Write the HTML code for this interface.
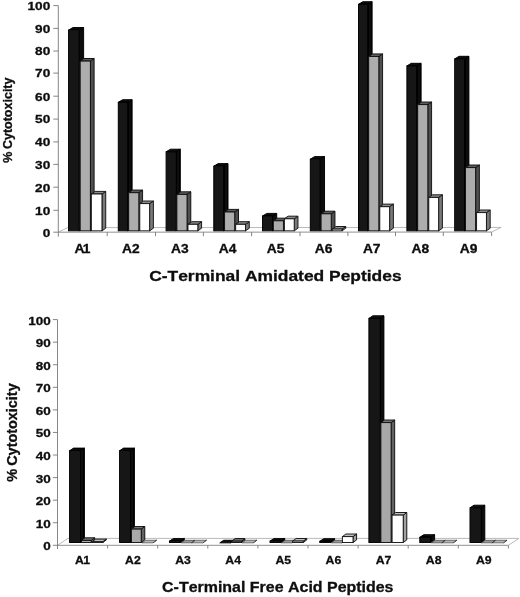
<!DOCTYPE html>
<html><head><meta charset="utf-8"><title>Cytotoxicity of peptides</title>
<style>
html,body{margin:0;padding:0;background:#fff;}
svg{display:block;filter:grayscale(1)}
text{font-family:"Liberation Sans", Arial, Helvetica, sans-serif;font-weight:bold;fill:#0e0e0e;stroke:#0e0e0e;stroke-width:0.3px;font-kerning:none}
</style></head><body>
<svg width="520" height="597" viewBox="0 0 520 597">
<defs><filter id="soft" x="-2%" y="-2%" width="104%" height="104%"><feGaussianBlur stdDeviation="0.32"/></filter></defs>
<rect width="520" height="597" fill="#fff"/>
<g filter="url(#soft)">
<polyline points="58.3,232.2 67.7,227.6 501.05,227.45 491.65,232.05" fill="none" stroke="#a8a8a8" stroke-width="0.8"/>
<line x1="58.3" y1="232.2" x2="491.65" y2="232.05" stroke="#858585" stroke-width="0.9"/>
<line x1="58.3" y1="5.6" x2="58.3" y2="236.7" stroke="#787878" stroke-width="0.9"/>
<line x1="53.3" y1="232.2" x2="58.3" y2="232.2" stroke="#787878" stroke-width="0.9"/>
<line x1="53.3" y1="210.3" x2="58.3" y2="210.3" stroke="#787878" stroke-width="0.9"/>
<line x1="53.3" y1="187.2" x2="58.3" y2="187.2" stroke="#787878" stroke-width="0.9"/>
<line x1="53.3" y1="164.4" x2="58.3" y2="164.4" stroke="#787878" stroke-width="0.9"/>
<line x1="53.3" y1="141.9" x2="58.3" y2="141.9" stroke="#787878" stroke-width="0.9"/>
<line x1="53.3" y1="119.1" x2="58.3" y2="119.1" stroke="#787878" stroke-width="0.9"/>
<line x1="53.3" y1="96.2" x2="58.3" y2="96.2" stroke="#787878" stroke-width="0.9"/>
<line x1="53.3" y1="73.1" x2="58.3" y2="73.1" stroke="#787878" stroke-width="0.9"/>
<line x1="53.3" y1="51" x2="58.3" y2="51" stroke="#787878" stroke-width="0.9"/>
<line x1="53.3" y1="28.4" x2="58.3" y2="28.4" stroke="#787878" stroke-width="0.9"/>
<line x1="53.3" y1="5.6" x2="58.3" y2="5.6" stroke="#787878" stroke-width="0.9"/>
<line x1="107.2" y1="232.18" x2="107.2" y2="236.18" stroke="#787878" stroke-width="0.9"/>
<line x1="155.5" y1="232.17" x2="155.5" y2="236.17" stroke="#787878" stroke-width="0.9"/>
<line x1="203.4" y1="232.15" x2="203.4" y2="236.15" stroke="#787878" stroke-width="0.9"/>
<line x1="251.6" y1="232.13" x2="251.6" y2="236.13" stroke="#787878" stroke-width="0.9"/>
<line x1="300" y1="232.12" x2="300" y2="236.12" stroke="#787878" stroke-width="0.9"/>
<line x1="347.9" y1="232.1" x2="347.9" y2="236.1" stroke="#787878" stroke-width="0.9"/>
<line x1="395.5" y1="232.08" x2="395.5" y2="236.08" stroke="#787878" stroke-width="0.9"/>
<line x1="443.3" y1="232.07" x2="443.3" y2="236.07" stroke="#787878" stroke-width="0.9"/>
<line x1="491.6" y1="232.05" x2="491.6" y2="236.05" stroke="#787878" stroke-width="0.9"/>
<polygon points="79.22,30.1 83.62,27.5 83.62,228.23 79.22,230.83" fill="#070707" stroke="#040404" stroke-width="0.95" stroke-linejoin="round"/>
<polygon points="68.57,30.1 72.97,27.5 83.62,27.5 79.22,30.1" fill="#0a0a0a" stroke="#040404" stroke-width="0.95" stroke-linejoin="round"/>
<rect x="68.57" y="30.1" width="10.65" height="200.73" fill="#161616" stroke="#040404" stroke-width="0.95"/>
<polygon points="90.38,61.1 94.12,58.5 94.12,228.23 90.38,230.83" fill="#505050" stroke="#101010" stroke-width="0.95" stroke-linejoin="round"/>
<polygon points="80.17,61.1 83.92,58.5 94.12,58.5 90.38,61.1" fill="#5c5c5c" stroke="#101010" stroke-width="0.95" stroke-linejoin="round"/>
<rect x="80.17" y="61.1" width="10.2" height="169.73" fill="#adadad" stroke="#101010" stroke-width="0.95"/>
<polygon points="101.97,194 105.72,191.4 105.72,228.23 101.97,230.83" fill="#7a7a7a" stroke="#141414" stroke-width="0.95" stroke-linejoin="round"/>
<polygon points="91.32,194 95.07,191.4 105.72,191.4 101.97,194" fill="#8c8c8c" stroke="#141414" stroke-width="0.95" stroke-linejoin="round"/>
<rect x="91.32" y="194" width="10.65" height="36.83" fill="#ffffff" stroke="#141414" stroke-width="0.95"/>
<polygon points="127.72,102.3 132.12,99.7 132.12,228.23 127.72,230.83" fill="#070707" stroke="#040404" stroke-width="0.95" stroke-linejoin="round"/>
<polygon points="118.27,102.3 122.67,99.7 132.12,99.7 127.72,102.3" fill="#0a0a0a" stroke="#040404" stroke-width="0.95" stroke-linejoin="round"/>
<rect x="118.27" y="102.3" width="9.45" height="128.53" fill="#161616" stroke="#040404" stroke-width="0.95"/>
<polygon points="138.82,192.7 142.57,190.1 142.57,228.23 138.82,230.83" fill="#505050" stroke="#101010" stroke-width="0.95" stroke-linejoin="round"/>
<polygon points="128.67,192.7 132.42,190.1 142.57,190.1 138.82,192.7" fill="#5c5c5c" stroke="#101010" stroke-width="0.95" stroke-linejoin="round"/>
<rect x="128.67" y="192.7" width="10.15" height="38.13" fill="#adadad" stroke="#101010" stroke-width="0.95"/>
<polygon points="149.62,203.6 153.38,201 153.38,228.23 149.62,230.83" fill="#7a7a7a" stroke="#141414" stroke-width="0.95" stroke-linejoin="round"/>
<polygon points="139.77,203.6 143.52,201 153.38,201 149.62,203.6" fill="#8c8c8c" stroke="#141414" stroke-width="0.95" stroke-linejoin="round"/>
<rect x="139.77" y="203.6" width="9.85" height="27.23" fill="#ffffff" stroke="#141414" stroke-width="0.95"/>
<polygon points="175.93,151.8 180.33,149.2 180.33,228.23 175.93,230.83" fill="#070707" stroke="#040404" stroke-width="0.95" stroke-linejoin="round"/>
<polygon points="166.07,151.8 170.47,149.2 180.33,149.2 175.93,151.8" fill="#0a0a0a" stroke="#040404" stroke-width="0.95" stroke-linejoin="round"/>
<rect x="166.07" y="151.8" width="9.85" height="79.03" fill="#161616" stroke="#040404" stroke-width="0.95"/>
<polygon points="187.03,194.4 190.78,191.8 190.78,228.23 187.03,230.83" fill="#505050" stroke="#101010" stroke-width="0.95" stroke-linejoin="round"/>
<polygon points="176.88,194.4 180.62,191.8 190.78,191.8 187.03,194.4" fill="#5c5c5c" stroke="#101010" stroke-width="0.95" stroke-linejoin="round"/>
<rect x="176.88" y="194.4" width="10.15" height="36.43" fill="#adadad" stroke="#101010" stroke-width="0.95"/>
<polygon points="197.83,224.3 201.58,221.7 201.58,228.23 197.83,230.83" fill="#7a7a7a" stroke="#141414" stroke-width="0.95" stroke-linejoin="round"/>
<polygon points="187.97,224.3 191.72,221.7 201.58,221.7 197.83,224.3" fill="#8c8c8c" stroke="#141414" stroke-width="0.95" stroke-linejoin="round"/>
<rect x="187.97" y="224.3" width="9.85" height="6.53" fill="#ffffff" stroke="#141414" stroke-width="0.95"/>
<polygon points="223.63,166.2 228.03,163.6 228.03,228.23 223.63,230.83" fill="#070707" stroke="#040404" stroke-width="0.95" stroke-linejoin="round"/>
<polygon points="213.78,166.2 218.18,163.6 228.03,163.6 223.63,166.2" fill="#0a0a0a" stroke="#040404" stroke-width="0.95" stroke-linejoin="round"/>
<rect x="213.78" y="166.2" width="9.85" height="64.63" fill="#161616" stroke="#040404" stroke-width="0.95"/>
<polygon points="234.73,212 238.48,209.4 238.48,228.23 234.73,230.83" fill="#505050" stroke="#101010" stroke-width="0.95" stroke-linejoin="round"/>
<polygon points="224.58,212 228.33,209.4 238.48,209.4 234.73,212" fill="#5c5c5c" stroke="#101010" stroke-width="0.95" stroke-linejoin="round"/>
<rect x="224.58" y="212" width="10.15" height="18.83" fill="#adadad" stroke="#101010" stroke-width="0.95"/>
<polygon points="245.53,224.3 249.28,221.7 249.28,228.23 245.53,230.83" fill="#7a7a7a" stroke="#141414" stroke-width="0.95" stroke-linejoin="round"/>
<polygon points="235.68,224.3 239.43,221.7 249.28,221.7 245.53,224.3" fill="#8c8c8c" stroke="#141414" stroke-width="0.95" stroke-linejoin="round"/>
<rect x="235.68" y="224.3" width="9.85" height="6.53" fill="#ffffff" stroke="#141414" stroke-width="0.95"/>
<polygon points="272.32,216 276.72,213.4 276.72,228.23 272.32,230.83" fill="#070707" stroke="#040404" stroke-width="0.95" stroke-linejoin="round"/>
<polygon points="262.48,216 266.88,213.4 276.72,213.4 272.32,216" fill="#0a0a0a" stroke="#040404" stroke-width="0.95" stroke-linejoin="round"/>
<rect x="262.48" y="216" width="9.85" height="14.83" fill="#161616" stroke="#040404" stroke-width="0.95"/>
<polygon points="283.43,220.8 287.18,218.2 287.18,228.23 283.43,230.83" fill="#505050" stroke="#101010" stroke-width="0.95" stroke-linejoin="round"/>
<polygon points="273.28,220.8 277.03,218.2 287.18,218.2 283.43,220.8" fill="#5c5c5c" stroke="#101010" stroke-width="0.95" stroke-linejoin="round"/>
<rect x="273.28" y="220.8" width="10.15" height="10.03" fill="#adadad" stroke="#101010" stroke-width="0.95"/>
<polygon points="294.23,218.8 297.98,216.2 297.98,228.23 294.23,230.83" fill="#7a7a7a" stroke="#141414" stroke-width="0.95" stroke-linejoin="round"/>
<polygon points="284.38,218.8 288.13,216.2 297.98,216.2 294.23,218.8" fill="#8c8c8c" stroke="#141414" stroke-width="0.95" stroke-linejoin="round"/>
<rect x="284.38" y="218.8" width="9.85" height="12.03" fill="#ffffff" stroke="#141414" stroke-width="0.95"/>
<polygon points="320.12,159.2 324.52,156.6 324.52,228.23 320.12,230.83" fill="#070707" stroke="#040404" stroke-width="0.95" stroke-linejoin="round"/>
<polygon points="310.28,159.2 314.68,156.6 324.52,156.6 320.12,159.2" fill="#0a0a0a" stroke="#040404" stroke-width="0.95" stroke-linejoin="round"/>
<rect x="310.28" y="159.2" width="9.85" height="71.63" fill="#161616" stroke="#040404" stroke-width="0.95"/>
<polygon points="331.23,213.8 334.98,211.2 334.98,228.23 331.23,230.83" fill="#505050" stroke="#101010" stroke-width="0.95" stroke-linejoin="round"/>
<polygon points="321.08,213.8 324.83,211.2 334.98,211.2 331.23,213.8" fill="#5c5c5c" stroke="#101010" stroke-width="0.95" stroke-linejoin="round"/>
<rect x="321.08" y="213.8" width="10.15" height="17.03" fill="#adadad" stroke="#101010" stroke-width="0.95"/>
<polygon points="342.03,229.1 345.78,226.5 345.78,228.23 342.03,230.83" fill="#7a7a7a" stroke="#141414" stroke-width="0.95" stroke-linejoin="round"/>
<polygon points="332.18,229.1 335.93,226.5 345.78,226.5 342.03,229.1" fill="#8c8c8c" stroke="#141414" stroke-width="0.95" stroke-linejoin="round"/>
<rect x="332.18" y="229.1" width="9.85" height="1.73" fill="#ffffff" stroke="#141414" stroke-width="0.95"/>
<polygon points="367.72,4.3 372.12,1.7 372.12,228.23 367.72,230.83" fill="#070707" stroke="#040404" stroke-width="0.95" stroke-linejoin="round"/>
<polygon points="358.48,4.3 362.88,1.7 372.12,1.7 367.72,4.3" fill="#0a0a0a" stroke="#040404" stroke-width="0.95" stroke-linejoin="round"/>
<rect x="358.48" y="4.3" width="9.25" height="226.53" fill="#161616" stroke="#040404" stroke-width="0.95"/>
<polygon points="378.82,56.5 382.57,53.9 382.57,228.23 378.82,230.83" fill="#505050" stroke="#101010" stroke-width="0.95" stroke-linejoin="round"/>
<polygon points="368.68,56.5 372.43,53.9 382.57,53.9 378.82,56.5" fill="#5c5c5c" stroke="#101010" stroke-width="0.95" stroke-linejoin="round"/>
<rect x="368.68" y="56.5" width="10.15" height="174.33" fill="#adadad" stroke="#101010" stroke-width="0.95"/>
<polygon points="389.62,206.7 393.38,204.1 393.38,228.23 389.62,230.83" fill="#7a7a7a" stroke="#141414" stroke-width="0.95" stroke-linejoin="round"/>
<polygon points="379.78,206.7 383.53,204.1 393.38,204.1 389.62,206.7" fill="#8c8c8c" stroke="#141414" stroke-width="0.95" stroke-linejoin="round"/>
<rect x="379.78" y="206.7" width="9.85" height="24.13" fill="#ffffff" stroke="#141414" stroke-width="0.95"/>
<polygon points="416.72,65.9 421.12,63.3 421.12,228.23 416.72,230.83" fill="#070707" stroke="#040404" stroke-width="0.95" stroke-linejoin="round"/>
<polygon points="406.88,65.9 411.27,63.3 421.12,63.3 416.72,65.9" fill="#0a0a0a" stroke="#040404" stroke-width="0.95" stroke-linejoin="round"/>
<rect x="406.88" y="65.9" width="9.85" height="164.93" fill="#161616" stroke="#040404" stroke-width="0.95"/>
<polygon points="427.82,104.6 431.57,102 431.57,228.23 427.82,230.83" fill="#505050" stroke="#101010" stroke-width="0.95" stroke-linejoin="round"/>
<polygon points="417.68,104.6 421.43,102 431.57,102 427.82,104.6" fill="#5c5c5c" stroke="#101010" stroke-width="0.95" stroke-linejoin="round"/>
<rect x="417.68" y="104.6" width="10.15" height="126.23" fill="#adadad" stroke="#101010" stroke-width="0.95"/>
<polygon points="438.62,197.4 442.38,194.8 442.38,228.23 438.62,230.83" fill="#7a7a7a" stroke="#141414" stroke-width="0.95" stroke-linejoin="round"/>
<polygon points="428.78,197.4 432.53,194.8 442.38,194.8 438.62,197.4" fill="#8c8c8c" stroke="#141414" stroke-width="0.95" stroke-linejoin="round"/>
<rect x="428.78" y="197.4" width="9.85" height="33.43" fill="#ffffff" stroke="#141414" stroke-width="0.95"/>
<polygon points="464.52,58.9 468.92,56.3 468.92,228.23 464.52,230.83" fill="#070707" stroke="#040404" stroke-width="0.95" stroke-linejoin="round"/>
<polygon points="454.68,58.9 459.07,56.3 468.92,56.3 464.52,58.9" fill="#0a0a0a" stroke="#040404" stroke-width="0.95" stroke-linejoin="round"/>
<rect x="454.68" y="58.9" width="9.85" height="171.93" fill="#161616" stroke="#040404" stroke-width="0.95"/>
<polygon points="475.62,167.6 479.38,165 479.38,228.23 475.62,230.83" fill="#505050" stroke="#101010" stroke-width="0.95" stroke-linejoin="round"/>
<polygon points="465.48,167.6 469.23,165 479.38,165 475.62,167.6" fill="#5c5c5c" stroke="#101010" stroke-width="0.95" stroke-linejoin="round"/>
<rect x="465.48" y="167.6" width="10.15" height="63.23" fill="#adadad" stroke="#101010" stroke-width="0.95"/>
<polygon points="486.43,212.6 490.18,210 490.18,228.23 486.43,230.83" fill="#7a7a7a" stroke="#141414" stroke-width="0.95" stroke-linejoin="round"/>
<polygon points="476.58,212.6 480.33,210 490.18,210 486.43,212.6" fill="#8c8c8c" stroke="#141414" stroke-width="0.95" stroke-linejoin="round"/>
<rect x="476.58" y="212.6" width="9.85" height="18.23" fill="#ffffff" stroke="#141414" stroke-width="0.95"/>
</g>
<g>
<text transform="translate(50.2,236.5) scale(1.175,1)" text-anchor="end" font-size="11.6">0</text>
<text transform="translate(50.2,214.6) scale(1.175,1)" text-anchor="end" font-size="11.6">10</text>
<text transform="translate(50.2,191.5) scale(1.175,1)" text-anchor="end" font-size="11.6">20</text>
<text transform="translate(50.2,168.7) scale(1.175,1)" text-anchor="end" font-size="11.6">30</text>
<text transform="translate(50.2,146.2) scale(1.175,1)" text-anchor="end" font-size="11.6">40</text>
<text transform="translate(50.2,123.4) scale(1.175,1)" text-anchor="end" font-size="11.6">50</text>
<text transform="translate(50.2,100.5) scale(1.175,1)" text-anchor="end" font-size="11.6">60</text>
<text transform="translate(50.2,77.4) scale(1.175,1)" text-anchor="end" font-size="11.6">70</text>
<text transform="translate(50.2,55.3) scale(1.175,1)" text-anchor="end" font-size="11.6">80</text>
<text transform="translate(50.2,32.7) scale(1.175,1)" text-anchor="end" font-size="11.6">90</text>
<text transform="translate(50.2,9.9) scale(1.175,1)" text-anchor="end" font-size="11.6">100</text>
<text transform="translate(74.6,252.6) scale(1.15,1)" font-size="12">A<tspan dx="-1.6">1</tspan></text>
<text transform="translate(122,252.6) scale(1.15,1)" font-size="12">A2</text>
<text transform="translate(171,252.6) scale(1.15,1)" font-size="12">A3</text>
<text transform="translate(218.8,252.6) scale(1.15,1)" font-size="12">A4</text>
<text transform="translate(266.7,252.6) scale(1.15,1)" font-size="12">A5</text>
<text transform="translate(314.7,252.6) scale(1.15,1)" font-size="12">A6</text>
<text transform="translate(362.9,252.6) scale(1.15,1)" font-size="12">A7</text>
<text transform="translate(411.6,252.6) scale(1.15,1)" font-size="12">A8</text>
<text transform="translate(459.8,252.6) scale(1.15,1)" font-size="12">A9</text>
<text x="149.2" y="281.4" font-size="15.4" textLength="252.4" lengthAdjust="spacingAndGlyphs">C-Terminal Amidated Peptides</text>
<text transform="translate(12.2,162.7) rotate(-90)" font-size="13.6" textLength="85.2" lengthAdjust="spacingAndGlyphs" word-spacing="-1.1">% Cytotoxicity</text>
</g>
<g filter="url(#soft)">
<polyline points="57.5,545.3 68,538.4 518.9,538.4 508.4,545.3" fill="none" stroke="#a8a8a8" stroke-width="0.8"/>
<line x1="57.5" y1="545.3" x2="508.4" y2="545.3" stroke="#858585" stroke-width="0.9"/>
<line x1="57.5" y1="319.6" x2="57.5" y2="549.1" stroke="#787878" stroke-width="0.9"/>
<line x1="52.9" y1="545.3" x2="57.5" y2="545.3" stroke="#787878" stroke-width="0.9"/>
<line x1="52.9" y1="522.73" x2="57.5" y2="522.73" stroke="#787878" stroke-width="0.9"/>
<line x1="52.9" y1="500.16" x2="57.5" y2="500.16" stroke="#787878" stroke-width="0.9"/>
<line x1="52.9" y1="477.59" x2="57.5" y2="477.59" stroke="#787878" stroke-width="0.9"/>
<line x1="52.9" y1="455.02" x2="57.5" y2="455.02" stroke="#787878" stroke-width="0.9"/>
<line x1="52.9" y1="432.45" x2="57.5" y2="432.45" stroke="#787878" stroke-width="0.9"/>
<line x1="52.9" y1="409.88" x2="57.5" y2="409.88" stroke="#787878" stroke-width="0.9"/>
<line x1="52.9" y1="387.31" x2="57.5" y2="387.31" stroke="#787878" stroke-width="0.9"/>
<line x1="52.9" y1="364.74" x2="57.5" y2="364.74" stroke="#787878" stroke-width="0.9"/>
<line x1="52.9" y1="342.17" x2="57.5" y2="342.17" stroke="#787878" stroke-width="0.9"/>
<line x1="52.9" y1="319.6" x2="57.5" y2="319.6" stroke="#787878" stroke-width="0.9"/>
<line x1="107.6" y1="545.3" x2="107.6" y2="548.5" stroke="#787878" stroke-width="0.9"/>
<line x1="157.7" y1="545.3" x2="157.7" y2="548.5" stroke="#787878" stroke-width="0.9"/>
<line x1="207.8" y1="545.3" x2="207.8" y2="548.5" stroke="#787878" stroke-width="0.9"/>
<line x1="257.9" y1="545.3" x2="257.9" y2="548.5" stroke="#787878" stroke-width="0.9"/>
<line x1="308" y1="545.3" x2="308" y2="548.5" stroke="#787878" stroke-width="0.9"/>
<line x1="358.1" y1="545.3" x2="358.1" y2="548.5" stroke="#787878" stroke-width="0.9"/>
<line x1="408.2" y1="545.3" x2="408.2" y2="548.5" stroke="#787878" stroke-width="0.9"/>
<line x1="458.3" y1="545.3" x2="458.3" y2="548.5" stroke="#787878" stroke-width="0.9"/>
<line x1="508.4" y1="545.3" x2="508.4" y2="548.5" stroke="#787878" stroke-width="0.9"/>
<polygon points="80.42,450.7 84.42,448.1 84.42,539.92 80.42,542.52" fill="#070707" stroke="#040404" stroke-width="0.95" stroke-linejoin="round"/>
<polygon points="69.57,450.7 73.57,448.1 84.42,448.1 80.42,450.7" fill="#0a0a0a" stroke="#040404" stroke-width="0.95" stroke-linejoin="round"/>
<rect x="69.57" y="450.7" width="10.85" height="91.82" fill="#161616" stroke="#040404" stroke-width="0.95"/>
<polygon points="91.22,540.4 94.77,537.8 94.77,539.92 91.22,542.52" fill="#626262" stroke="#101010" stroke-width="0.95" stroke-linejoin="round"/>
<polygon points="81.37,540.4 84.92,537.8 94.77,537.8 91.22,540.4" fill="#747474" stroke="#101010" stroke-width="0.95" stroke-linejoin="round"/>
<rect x="81.37" y="540.4" width="9.85" height="2.12" fill="#a8a8a8" stroke="#101010" stroke-width="0.95"/>
<polygon points="102.82,541.7 106.37,539.1 106.37,539.92 102.82,542.52" fill="#a2a2a2" stroke="#141414" stroke-width="0.95" stroke-linejoin="round"/>
<polygon points="92.17,541.7 95.72,539.1 106.37,539.1 102.82,541.7" fill="#bdbdbd" stroke="#141414" stroke-width="0.95" stroke-linejoin="round"/>
<rect x="92.17" y="541.7" width="10.65" height="0.82" fill="#ffffff" stroke="#141414" stroke-width="0.95"/>
<polygon points="130.43,450.7 134.43,448.1 134.43,539.92 130.43,542.52" fill="#070707" stroke="#040404" stroke-width="0.95" stroke-linejoin="round"/>
<polygon points="119.57,450.7 123.57,448.1 134.43,448.1 130.43,450.7" fill="#0a0a0a" stroke="#040404" stroke-width="0.95" stroke-linejoin="round"/>
<rect x="119.57" y="450.7" width="10.85" height="91.82" fill="#161616" stroke="#040404" stroke-width="0.95"/>
<polygon points="141.23,529.1 144.78,526.5 144.78,539.92 141.23,542.52" fill="#626262" stroke="#101010" stroke-width="0.95" stroke-linejoin="round"/>
<polygon points="131.38,529.1 134.93,526.5 144.78,526.5 141.23,529.1" fill="#747474" stroke="#101010" stroke-width="0.95" stroke-linejoin="round"/>
<rect x="131.38" y="529.1" width="9.85" height="13.42" fill="#a8a8a8" stroke="#101010" stroke-width="0.95"/>
<polygon points="153,542.85 156.55,540.25 156.55,540.1 153,542.7" fill="#a2a2a2" stroke="#222" stroke-width="0.6" stroke-linejoin="round"/>
<polygon points="142,542.85 145.55,540.25 156.55,540.25 153,542.85" fill="#b8b8b8" stroke="#222" stroke-width="0.6" stroke-linejoin="round"/>
<rect x="142" y="542.85" width="11" height="-0.15" fill="#ffffff" stroke="#222" stroke-width="0.6"/>
<polygon points="180.33,541.1 184.33,538.5 184.33,539.92 180.33,542.52" fill="#070707" stroke="#040404" stroke-width="0.95" stroke-linejoin="round"/>
<polygon points="169.47,541.1 173.47,538.5 184.33,538.5 180.33,541.1" fill="#0a0a0a" stroke="#040404" stroke-width="0.95" stroke-linejoin="round"/>
<rect x="169.47" y="541.1" width="10.85" height="1.42" fill="#161616" stroke="#040404" stroke-width="0.95"/>
<polygon points="191.3,542.85 194.85,540.25 194.85,540.1 191.3,542.7" fill="#626262" stroke="#222" stroke-width="0.6" stroke-linejoin="round"/>
<polygon points="181.1,542.85 184.65,540.25 194.85,540.25 191.3,542.85" fill="#989898" stroke="#222" stroke-width="0.6" stroke-linejoin="round"/>
<rect x="181.1" y="542.85" width="10.2" height="-0.15" fill="#a8a8a8" stroke="#222" stroke-width="0.6"/>
<polygon points="202.9,542.85 206.45,540.25 206.45,540.1 202.9,542.7" fill="#a2a2a2" stroke="#222" stroke-width="0.6" stroke-linejoin="round"/>
<polygon points="191.9,542.85 195.45,540.25 206.45,540.25 202.9,542.85" fill="#b8b8b8" stroke="#222" stroke-width="0.6" stroke-linejoin="round"/>
<rect x="191.9" y="542.85" width="11" height="-0.15" fill="#ffffff" stroke="#222" stroke-width="0.6"/>
<polygon points="230.63,542.85 234.63,540.25 234.63,539.92 230.63,542.52" fill="#070707" stroke="#040404" stroke-width="0.95" stroke-linejoin="round"/>
<polygon points="219.78,542.85 223.78,540.25 234.63,540.25 230.63,542.85" fill="#0a0a0a" stroke="#040404" stroke-width="0.95" stroke-linejoin="round"/>
<rect x="219.78" y="542.85" width="10.85" height="-0.33" fill="#161616" stroke="#040404" stroke-width="0.95"/>
<polygon points="241.43,541.2 244.98,538.6 244.98,539.92 241.43,542.52" fill="#626262" stroke="#101010" stroke-width="0.95" stroke-linejoin="round"/>
<polygon points="231.58,541.2 235.13,538.6 244.98,538.6 241.43,541.2" fill="#747474" stroke="#101010" stroke-width="0.95" stroke-linejoin="round"/>
<rect x="231.58" y="541.2" width="9.85" height="1.32" fill="#a8a8a8" stroke="#101010" stroke-width="0.95"/>
<polygon points="253.2,542.85 256.75,540.25 256.75,540.1 253.2,542.7" fill="#a2a2a2" stroke="#222" stroke-width="0.6" stroke-linejoin="round"/>
<polygon points="242.2,542.85 245.75,540.25 256.75,540.25 253.2,542.85" fill="#b8b8b8" stroke="#222" stroke-width="0.6" stroke-linejoin="round"/>
<rect x="242.2" y="542.85" width="11" height="-0.15" fill="#ffffff" stroke="#222" stroke-width="0.6"/>
<polygon points="280.82,541.1 284.82,538.5 284.82,539.92 280.82,542.52" fill="#070707" stroke="#040404" stroke-width="0.95" stroke-linejoin="round"/>
<polygon points="269.98,541.1 273.98,538.5 284.82,538.5 280.82,541.1" fill="#0a0a0a" stroke="#040404" stroke-width="0.95" stroke-linejoin="round"/>
<rect x="269.98" y="541.1" width="10.85" height="1.42" fill="#161616" stroke="#040404" stroke-width="0.95"/>
<polygon points="291.8,542.85 295.35,540.25 295.35,540.1 291.8,542.7" fill="#626262" stroke="#222" stroke-width="0.6" stroke-linejoin="round"/>
<polygon points="281.6,542.85 285.15,540.25 295.35,540.25 291.8,542.85" fill="#989898" stroke="#222" stroke-width="0.6" stroke-linejoin="round"/>
<rect x="281.6" y="542.85" width="10.2" height="-0.15" fill="#a8a8a8" stroke="#222" stroke-width="0.6"/>
<polygon points="303.23,541.1 306.78,538.5 306.78,539.92 303.23,542.52" fill="#a2a2a2" stroke="#141414" stroke-width="0.95" stroke-linejoin="round"/>
<polygon points="292.58,541.1 296.13,538.5 306.78,538.5 303.23,541.1" fill="#bdbdbd" stroke="#141414" stroke-width="0.95" stroke-linejoin="round"/>
<rect x="292.58" y="541.1" width="10.65" height="1.42" fill="#ffffff" stroke="#141414" stroke-width="0.95"/>
<polygon points="330.62,541.3 334.62,538.7 334.62,539.92 330.62,542.52" fill="#070707" stroke="#040404" stroke-width="0.95" stroke-linejoin="round"/>
<polygon points="319.78,541.3 323.78,538.7 334.62,538.7 330.62,541.3" fill="#0a0a0a" stroke="#040404" stroke-width="0.95" stroke-linejoin="round"/>
<rect x="319.78" y="541.3" width="10.85" height="1.22" fill="#161616" stroke="#040404" stroke-width="0.95"/>
<polygon points="341.6,542.85 345.15,540.25 345.15,540.1 341.6,542.7" fill="#626262" stroke="#222" stroke-width="0.6" stroke-linejoin="round"/>
<polygon points="331.4,542.85 334.95,540.25 345.15,540.25 341.6,542.85" fill="#989898" stroke="#222" stroke-width="0.6" stroke-linejoin="round"/>
<rect x="331.4" y="542.85" width="10.2" height="-0.15" fill="#a8a8a8" stroke="#222" stroke-width="0.6"/>
<polygon points="353.03,536.6 356.58,534 356.58,539.92 353.03,542.52" fill="#a2a2a2" stroke="#141414" stroke-width="0.95" stroke-linejoin="round"/>
<polygon points="342.38,536.6 345.93,534 356.58,534 353.03,536.6" fill="#bdbdbd" stroke="#141414" stroke-width="0.95" stroke-linejoin="round"/>
<rect x="342.38" y="536.6" width="10.65" height="5.92" fill="#ffffff" stroke="#141414" stroke-width="0.95"/>
<polygon points="379.92,318.4 383.92,315.8 383.92,539.92 379.92,542.52" fill="#070707" stroke="#040404" stroke-width="0.95" stroke-linejoin="round"/>
<polygon points="368.88,318.4 372.88,315.8 383.92,315.8 379.92,318.4" fill="#0a0a0a" stroke="#040404" stroke-width="0.95" stroke-linejoin="round"/>
<rect x="368.88" y="318.4" width="11.05" height="224.12" fill="#161616" stroke="#040404" stroke-width="0.95"/>
<polygon points="391.12,422.6 394.67,420 394.67,539.92 391.12,542.52" fill="#626262" stroke="#101010" stroke-width="0.95" stroke-linejoin="round"/>
<polygon points="380.88,422.6 384.43,420 394.67,420 391.12,422.6" fill="#747474" stroke="#101010" stroke-width="0.95" stroke-linejoin="round"/>
<rect x="380.88" y="422.6" width="10.25" height="119.92" fill="#a8a8a8" stroke="#101010" stroke-width="0.95"/>
<polygon points="403.22,515.1 406.77,512.5 406.77,539.92 403.22,542.52" fill="#a2a2a2" stroke="#141414" stroke-width="0.95" stroke-linejoin="round"/>
<polygon points="392.07,515.1 395.62,512.5 406.77,512.5 403.22,515.1" fill="#bdbdbd" stroke="#141414" stroke-width="0.95" stroke-linejoin="round"/>
<rect x="392.07" y="515.1" width="11.15" height="27.42" fill="#ffffff" stroke="#141414" stroke-width="0.95"/>
<polygon points="430.62,537.3 434.62,534.7 434.62,539.92 430.62,542.52" fill="#070707" stroke="#040404" stroke-width="0.95" stroke-linejoin="round"/>
<polygon points="419.78,537.3 423.78,534.7 434.62,534.7 430.62,537.3" fill="#0a0a0a" stroke="#040404" stroke-width="0.95" stroke-linejoin="round"/>
<rect x="419.78" y="537.3" width="10.85" height="5.22" fill="#161616" stroke="#040404" stroke-width="0.95"/>
<polygon points="441.6,542.85 445.15,540.25 445.15,540.1 441.6,542.7" fill="#626262" stroke="#222" stroke-width="0.6" stroke-linejoin="round"/>
<polygon points="431.4,542.85 434.95,540.25 445.15,540.25 441.6,542.85" fill="#989898" stroke="#222" stroke-width="0.6" stroke-linejoin="round"/>
<rect x="431.4" y="542.85" width="10.2" height="-0.15" fill="#a8a8a8" stroke="#222" stroke-width="0.6"/>
<polygon points="453.2,542.85 456.75,540.25 456.75,540.1 453.2,542.7" fill="#a2a2a2" stroke="#222" stroke-width="0.6" stroke-linejoin="round"/>
<polygon points="442.2,542.85 445.75,540.25 456.75,540.25 453.2,542.85" fill="#b8b8b8" stroke="#222" stroke-width="0.6" stroke-linejoin="round"/>
<rect x="442.2" y="542.85" width="11" height="-0.15" fill="#ffffff" stroke="#222" stroke-width="0.6"/>
<polygon points="480.82,507.8 484.82,505.2 484.82,539.92 480.82,542.52" fill="#070707" stroke="#040404" stroke-width="0.95" stroke-linejoin="round"/>
<polygon points="469.98,507.8 473.98,505.2 484.82,505.2 480.82,507.8" fill="#0a0a0a" stroke="#040404" stroke-width="0.95" stroke-linejoin="round"/>
<rect x="469.98" y="507.8" width="10.85" height="34.72" fill="#161616" stroke="#040404" stroke-width="0.95"/>
<polygon points="491.8,542.85 495.35,540.25 495.35,540.1 491.8,542.7" fill="#626262" stroke="#222" stroke-width="0.6" stroke-linejoin="round"/>
<polygon points="481.6,542.85 485.15,540.25 495.35,540.25 491.8,542.85" fill="#989898" stroke="#222" stroke-width="0.6" stroke-linejoin="round"/>
<rect x="481.6" y="542.85" width="10.2" height="-0.15" fill="#a8a8a8" stroke="#222" stroke-width="0.6"/>
<polygon points="503.4,542.85 506.95,540.25 506.95,540.1 503.4,542.7" fill="#a2a2a2" stroke="#222" stroke-width="0.6" stroke-linejoin="round"/>
<polygon points="492.4,542.85 495.95,540.25 506.95,540.25 503.4,542.85" fill="#b8b8b8" stroke="#222" stroke-width="0.6" stroke-linejoin="round"/>
<rect x="492.4" y="542.85" width="11" height="-0.15" fill="#ffffff" stroke="#222" stroke-width="0.6"/>
</g>
<g>
<text transform="translate(50.8,550.3) scale(1.16,1)" text-anchor="end" font-size="11.6">0</text>
<text transform="translate(50.8,527.73) scale(1.16,1)" text-anchor="end" font-size="11.6">10</text>
<text transform="translate(50.8,505.16) scale(1.16,1)" text-anchor="end" font-size="11.6">20</text>
<text transform="translate(50.8,482.59) scale(1.16,1)" text-anchor="end" font-size="11.6">30</text>
<text transform="translate(50.8,460.02) scale(1.16,1)" text-anchor="end" font-size="11.6">40</text>
<text transform="translate(50.8,437.45) scale(1.16,1)" text-anchor="end" font-size="11.6">50</text>
<text transform="translate(50.8,414.88) scale(1.16,1)" text-anchor="end" font-size="11.6">60</text>
<text transform="translate(50.8,392.31) scale(1.16,1)" text-anchor="end" font-size="11.6">70</text>
<text transform="translate(50.8,369.74) scale(1.16,1)" text-anchor="end" font-size="11.6">80</text>
<text transform="translate(50.8,347.17) scale(1.16,1)" text-anchor="end" font-size="11.6">90</text>
<text transform="translate(50.8,324.6) scale(1.16,1)" text-anchor="end" font-size="11.6">100</text>
<text transform="translate(75,564.1) scale(1.04,1)" font-size="11.8">A<tspan dx="-0.6">1</tspan></text>
<text transform="translate(125.12,564.1) scale(1.04,1)" font-size="11.8">A2</text>
<text transform="translate(175.24,564.1) scale(1.04,1)" font-size="11.8">A3</text>
<text transform="translate(225.36,564.1) scale(1.04,1)" font-size="11.8">A4</text>
<text transform="translate(275.48,564.1) scale(1.04,1)" font-size="11.8">A5</text>
<text transform="translate(325.6,564.1) scale(1.04,1)" font-size="11.8">A6</text>
<text transform="translate(375.72,564.1) scale(1.04,1)" font-size="11.8">A7</text>
<text transform="translate(425.84,564.1) scale(1.04,1)" font-size="11.8">A8</text>
<text transform="translate(475.96,564.1) scale(1.04,1)" font-size="11.8">A9</text>
<text x="162.1" y="591.5" font-size="14.8" textLength="231.4" lengthAdjust="spacingAndGlyphs">C-Terminal Free Acid Peptides</text>
<text transform="translate(16.5,481.8) rotate(-90)" font-size="14.2" textLength="98.5" lengthAdjust="spacingAndGlyphs" word-spacing="-0.8">% Cytotoxicity</text>
</g>
</svg>
</body></html>
